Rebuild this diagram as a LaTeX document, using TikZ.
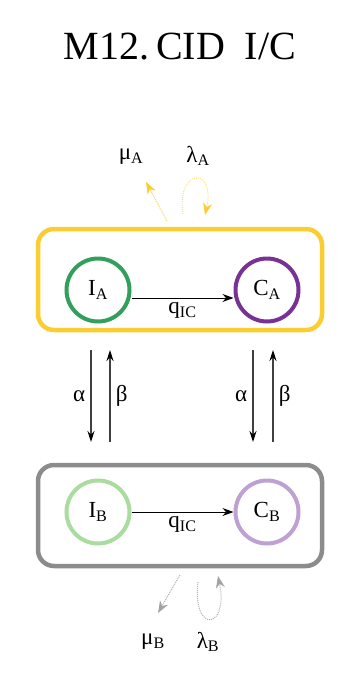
\documentclass[tikz,border=0pt]{standalone}
\usepackage{fontspec}
\setmainfont{Liberation Serif}
\usetikzlibrary{arrows.meta, positioning}
\definecolor{yellowA}{RGB}{250,205,50}
\definecolor{yellowL}{RGB}{252,225,120}
\definecolor{greenA}{RGB}{50,160,90}
\definecolor{purpleA}{RGB}{120,50,150}
\definecolor{greenB}{RGB}{170,220,160}
\definecolor{purpleB}{RGB}{190,160,210}
\definecolor{grayB}{RGB}{140,140,140}
\definecolor{grayL}{RGB}{175,175,175}
\tikzset{
  patch/.style={draw, rounded corners=16pt, line width=4.5pt,
    minimum width=284pt, minimum height=101pt},
  comp/.style={circle, draw, line width=4pt, minimum size=63pt,
    inner sep=0pt, font=\fontsize{23}{25}\selectfont},
  flow/.style={-{Stealth[length=11pt,width=8pt]}, line width=1pt},
  swap/.style={-{Stealth[length=11pt,width=7pt,color=black]}, line width=1.2pt,
    draw=black!75},
  rate/.style={font=\fontsize{23}{25}\selectfont},
  leak/.style={densely dotted, line width=1pt}
}
\begin{document}
\begin{tikzpicture}[x=1pt,y=-1pt]
\useasboundingbox (0,0) rectangle (351,685);

% Title
\node[font=\fontsize{40}{44}\selectfont] (title) at (180,47) {M12.\,CID\ \ I/C};

% Patches
\node[patch, draw=yellowA] (boxA) at (180,279.5) {};
\node[patch, draw=grayB] (boxB) at (180,515.5) {};

% Compartments
\node[comp, draw=greenA] (IA) at (98,290) {I\textsubscript{A}};
\node[comp, draw=purpleA] (CA) at (267,290) {C\textsubscript{A}};
\node[comp, draw=greenB] (IB) at (98,512) {I\textsubscript{B}};
\node[comp, draw=purpleB] (CB) at (267,512) {C\textsubscript{B}};

% Progression
\draw[flow] ([yshift=-8pt]IA.east) -- node[rate, below=1pt] {q\textsubscript{IC}} ([yshift=-8pt]CA.west);
\draw[flow] (IB.east) -- node[rate, below=1pt] {q\textsubscript{IC}} (CB.west);

% Movement between patches
\coordinate (aL1) at (91,350);  \coordinate (aL2) at (91,442);
\coordinate (bL1) at (110,442); \coordinate (bL2) at (110,350);
\coordinate (aR1) at (253,350); \coordinate (aR2) at (253,442);
\coordinate (bR1) at (273,442); \coordinate (bR2) at (273,350);
\draw[swap] (aL1) -- node[rate, left=2pt] {α} (aL2);
\draw[swap] (bL1) -- node[rate, right=2pt] {β} (bL2);
\draw[swap] (aR1) -- node[rate, left=2pt] {α} (aR2);
\draw[swap] (bR1) -- node[rate, right=2pt] {β} (bR2);

% Death and birth, patch A
\coordinate (muA0) at (167,221);
\coordinate (muA1) at (146,182);
\coordinate (laA0) at (183,214);
\coordinate (laA1) at (205,215);
\draw[leak, draw=yellowA!80, -{Stealth[length=12pt,width=9pt,color=yellowA]}] (muA0) -- (muA1);
\draw[leak, draw=yellowL, -{Stealth[length=12pt,width=9pt,color=yellowA]}]
  (laA0) .. controls (176,168) and (216,166) .. (laA1);
\node[rate] (muA) at (131,157) {μ\textsubscript{A}};
\node[rate] (laA) at (198,156) {λ\textsubscript{A}};

% Death and birth, patch B
\coordinate (muB0) at (180,575);
\coordinate (muB1) at (158,613);
\coordinate (laB0) at (198,582);
\coordinate (laB1) at (218,576);
\draw[leak, draw=grayL, -{Stealth[length=12pt,width=9pt,color=grayB!80]}] (muB0) -- (muB1);
\draw[leak, draw=grayL, -{Stealth[length=12pt,width=9pt,color=grayB!80]}]
  (laB0) .. controls (192,634) and (229,630) .. (laB1);
\node[rate] (muB) at (153,642) {μ\textsubscript{B}};
\node[rate] (laB) at (208,642) {λ\textsubscript{B}};
\end{tikzpicture}
\end{document}
